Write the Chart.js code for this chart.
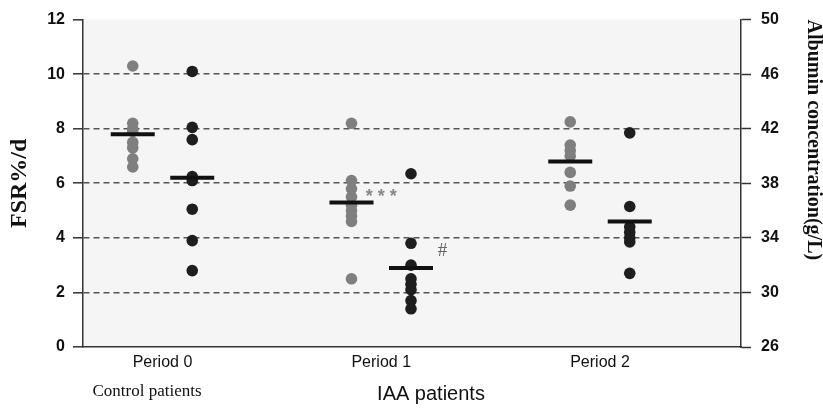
<!DOCTYPE html>
<html><head><meta charset="utf-8">
<script src="https://cdn.jsdelivr.net/npm/chart.js@4/dist/chart.umd.min.js"></script>
<style>html,body{margin:0;padding:0;background:#fff}#wrap{width:823px;height:416px}</style>
</head><body><div id="wrap"><canvas id="c" width="823" height="416"></canvas></div>
<script>
// ---- data ----
const periods = ['Period 0', 'Period 1', 'Period 2'];
// FSR %/d (grey dots, left axis)
const fsrPeriod0 = [10.3, 8.2, 8.0, 7.9, 7.5, 7.3, 6.9, 6.6];
const fsrPeriod1 = [8.2, 6.1, 5.8, 5.5, 5.2, 5.0, 4.8, 4.6, 2.5];
const fsrPeriod2 = [8.25, 7.4, 7.2, 7.0, 6.4, 5.9, 5.2];
const fsrMeans = [7.8, 5.3, 6.8];
// Albumin concentration g/L (dark dots, right axis)
const albPeriod0 = [46.2, 42.1, 41.2, 38.5, 38.2, 36.1, 33.8, 31.6];
const albPeriod1 = [38.7, 33.6, 32.0, 31.0, 30.6, 30.2, 29.4, 28.8];
const albPeriod2 = [41.7, 36.3, 34.8, 34.4, 34.0, 33.7, 31.4];
const albMeans = [38.4, 31.8, 35.2];
// tick labels
const fsrTicks = [0, 2, 4, 6, 8, 10, 12];
const albTicks = [26, 30, 34, 38, 42, 46, 50];
const groupLabels = ['Control patients', 'IAA patients'];
const marks = [{ text: '* * *', period: 1.0, fsr: 5.5 }, { text: '#', period: 1.28, fsr: 3.5 }];

// ---- build datasets ----
const SHIFT = 0.136;
const fsrAll = [fsrPeriod0, fsrPeriod1, fsrPeriod2];
const albAll = [albPeriod0, albPeriod1, albPeriod2];
const fsrPts = [], albPts = [];
fsrAll.forEach((arr, i) => arr.forEach(v => fsrPts.push({ x: i - SHIFT, y: v })));
albAll.forEach((arr, i) => arr.forEach(v => albPts.push({ x: i + SHIFT, y: v })));
const fsrMeanPts = fsrMeans.map((v, i) => ({ x: i - SHIFT, y: v }));
const albMeanPts = albMeans.map((v, i) => ({ x: i + SHIFT, y: v }));

const bgPlugin = {
  id: 'bg',
  beforeDraw(chart) {
    const { ctx, chartArea: a } = chart;
    ctx.save();
    ctx.fillStyle = '#ffffff';
    ctx.fillRect(0, 0, chart.width, chart.height);
    ctx.fillStyle = '#f5f5f5';
    ctx.fillRect(a.left, a.top, a.right - a.left, a.bottom - a.top);
    ctx.restore();
  }
};
const textPlugin = {
  id: 'texts',
  afterDatasetsDraw(chart) {
    const { ctx, scales } = chart;
    ctx.save();
    marks.forEach(m => {
      const px = scales.x.getPixelForValue(m.period);
      const py = scales.y.getPixelForValue(m.fsr);
      ctx.textAlign = 'center';
      ctx.textBaseline = 'middle';
      if (m.text === '#') {
        ctx.fillStyle = '#666';
        ctx.font = '19px "Liberation Serif", serif';
      } else {
        ctx.fillStyle = '#888';
        ctx.font = 'bold 18px "Liberation Sans", sans-serif';
      }
      ctx.fillText(m.text, px, py);
    });
    ctx.fillStyle = '#111';
    ctx.textBaseline = 'alphabetic';
    ctx.textAlign = 'center';
    ctx.font = '17px "Liberation Serif", serif';
    ctx.fillText(groupLabels[0], 147, 396);
    ctx.font = '20px "Liberation Sans", sans-serif';
    ctx.fillText(groupLabels[1], 431, 400);
    ctx.restore();
  }
};

const AX = '#333';
new Chart(document.getElementById('c'), {
  type: 'scatter',
  data: {
    datasets: [
      { data: fsrMeanPts, yAxisID: 'y', pointStyle: 'line', pointRadius: 22, borderWidth: 4, borderColor: '#111', backgroundColor: '#111' },
      { data: albMeanPts, yAxisID: 'y2', pointStyle: 'line', pointRadius: 22, borderWidth: 4, borderColor: '#111', backgroundColor: '#111' },
      { data: fsrPts, yAxisID: 'y', pointRadius: 5.8, borderWidth: 0, backgroundColor: '#7f7f7f' },
      { data: albPts, yAxisID: 'y2', pointRadius: 5.8, borderWidth: 0, backgroundColor: '#1e1e1e' }
    ]
  },
  options: {
    responsive: false,
    animation: false,
    devicePixelRatio: 1,
    layout: { autoPadding: false, padding: { top: 19, left: 0, right: 0, bottom: 0 } },
    plugins: { legend: { display: false }, tooltip: { enabled: false } },
    scales: {
      x: {
        type: 'linear', position: 'bottom',
        min: -0.3634, max: 2.6446,
        afterBuildTicks: s => { s.ticks = periods.map((p, i) => ({ value: i })); },
        afterFit: s => { s.height = 69; },
        ticks: { callback: v => periods[v] || '', color: '#111', font: { family: '"Liberation Sans", Arial, sans-serif', size: 16 }, padding: 6, maxRotation: 0, autoSkip: false },
        grid: { drawOnChartArea: false, drawTicks: false },
        border: { display: true, color: AX, width: 1.5 }
      },
      y: {
        position: 'left', min: 0, max: 12,
        afterBuildTicks: s => { s.ticks = fsrTicks.map(v => ({ value: v })); },
        afterFit: s => { s.width = 83; },
        ticks: { color: '#111', font: { family: '"Liberation Sans", Arial, sans-serif', size: 16, weight: 'bold' }, padding: 8 },
        grid: {
          color: c => (c.tick && (c.tick.value === 0 || c.tick.value === 12)) ? 'rgba(0,0,0,0)' : '#555',
          lineWidth: 1.6, tickColor: AX, tickWidth: 1.5, tickLength: 10, tickBorderDash: []
        },
        border: { display: true, color: AX, width: 1.5, dash: [6, 4] },
        title: { display: true, text: 'FSR%/d', color: '#111', font: { family: '"Liberation Serif", serif', size: 24, weight: 'bold', lineHeight: 1 }, padding: { top: 8, bottom: 0 } }
      },
      y2: {
        position: 'right', min: 26, max: 50,
        afterBuildTicks: s => { s.ticks = albTicks.map(v => ({ value: v })); },
        afterFit: s => { s.width = 82; },
        ticks: { color: '#111', font: { family: '"Liberation Sans", Arial, sans-serif', size: 16, weight: 'bold' }, padding: 10 },
        grid: { drawOnChartArea: false, tickColor: AX, tickWidth: 1.5, tickLength: 10 },
        border: { display: true, color: AX, width: 1.5 },
        title: { display: true, text: 'Albumin concentration(g/L)', align: 'end', color: '#111', font: { family: '"Liberation Serif", serif', size: 20, weight: 'bold', lineHeight: 1 }, padding: { top: 0, bottom: 0 } }
      }
    }
  },
  plugins: [bgPlugin, textPlugin]
});
</script>
</body></html>
